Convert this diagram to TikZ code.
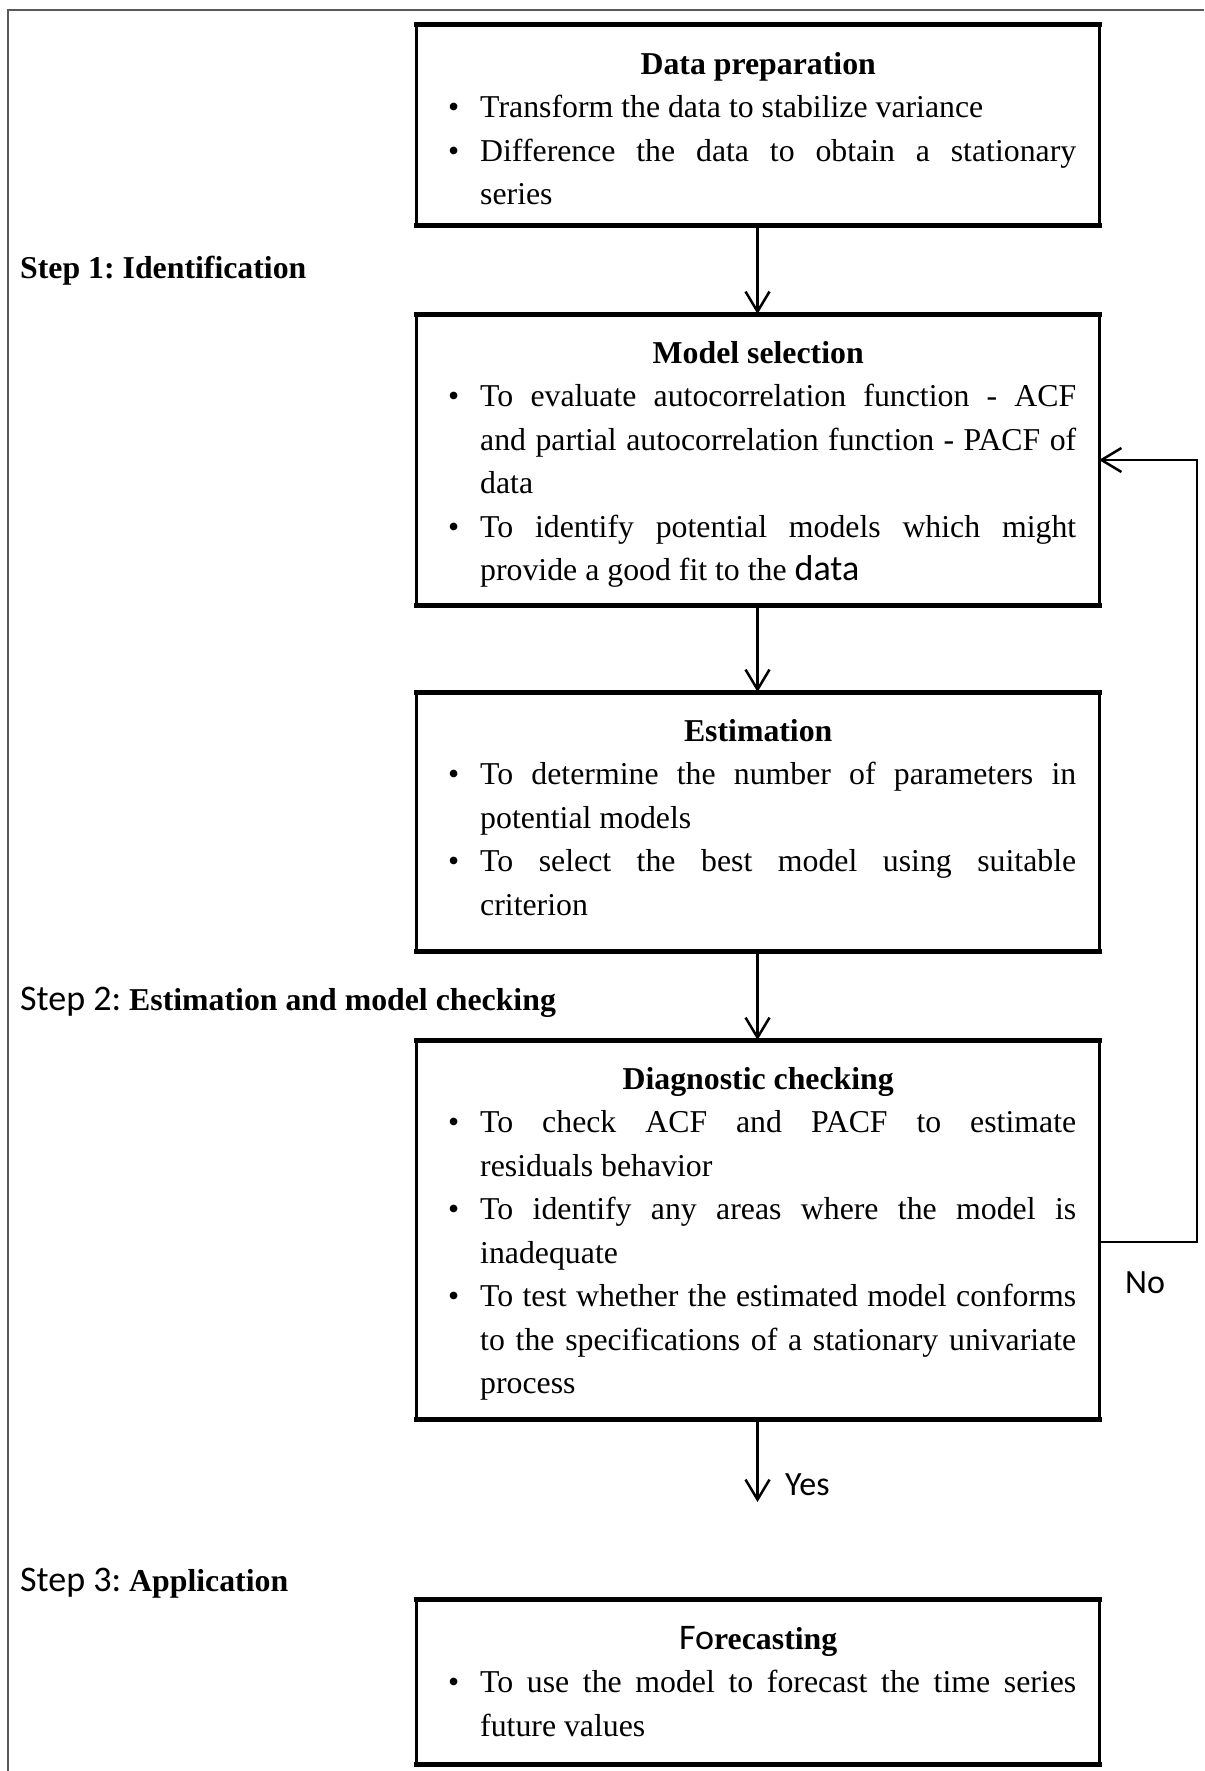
\documentclass[tikz,border=0pt]{standalone}
\usepackage{fontspec}
\setmainfont{Liberation Serif}
\newfontfamily\carl{Carlito}
\newcommand\cbig{\carl\fontsize{36}{43.5}\selectfont}
\usetikzlibrary{arrows.meta}
\newcommand\bitem[1]{\noindent\hangindent=32pt\hangafter=1\makebox[32pt][l]{\textbullet}#1\par}
\newcommand\btitle[1]{{\centering\bfseries\hspace*{-8pt}#1\par}}
\setlength\parindent{0pt}
\hyphenpenalty=10000
\frenchspacing
\begin{document}
\frenchspacing
\begin{tikzpicture}[x=1pt,y=-1pt,
  box/.style={draw=black,line width=3pt,minimum width=683pt,inner sep=0pt,outer sep=0pt},
  edge/.style={line width=5pt,line cap=rect},
  txt/.style={anchor=north west,inner sep=0pt,text width=628pt,align=justify,
    font=\fontsize{31.8}{43.5}\selectfont},
  lbl/.style={anchor=base west,inner sep=0pt,font=\fontsize{31.8}{38}\selectfont},
  arr/.style={line width=2.5pt,-{Straight Barb[length=20pt,width=24pt]}},
  conn/.style={line width=2.5pt}]
\useasboundingbox (0,0) rectangle (1204,1771);
\fill[white] (0,0) rectangle (1204,1771);
\draw[line width=1.5pt,black!65] (8,1771) -- (8,10) -- (1204,10);

% frames
\node[box,minimum height=201pt] (b1) at (757.5,125.5) {};
\node[box,minimum height=291pt] (b2) at (757.5,459.5) {};
\node[box,minimum height=259pt] (b3) at (757.5,821.5) {};
\node[box,minimum height=379pt] (b4) at (757.5,1229.5) {};
\node[box,minimum height=165pt] (b5) at (757.5,1681.5) {};
\foreach \b in {b1,b2,b3,b4,b5}{
  \draw[edge] (\b.north west) -- (\b.north east);
  \draw[edge] (\b.south west) -- (\b.south east);
}

% contents
\node[txt] (t1) at (448,52) {\btitle{Data preparation}
\bitem{Transform the data to stabilize variance}
\bitem{Difference the data to obtain a stationary\linebreak series}};
\node[txt] (t2) at (448,341) {\btitle{Model selection}
\bitem{To evaluate autocorrelation function - ACF\linebreak and partial autocorrelation function - PACF of\linebreak data}
\bitem{To identify potential models which might\linebreak provide a good fit to the {\cbig data}}};
\node[txt] (t3) at (448,719) {\btitle{Estimation}
\bitem{To determine the number of parameters in\linebreak potential models}
\bitem{To select the best model using suitable\linebreak criterion}};
\node[txt] (t4) at (448,1067) {\btitle{Diagnostic checking}
\bitem{To check ACF and PACF to estimate\linebreak residuals behavior}
\bitem{To identify any areas where the model is\linebreak inadequate}
\bitem{To test whether the estimated model conforms\linebreak to the specifications of a stationary univariate\linebreak process}};
\node[txt] (t5) at (448,1626) {\btitle{{\cbig\mdseries Fo}recasting}
\bitem{To use the model to forecast the time series\linebreak future values}};

% step labels
\node[lbl] (s1) at (20,278) {\bfseries Step 1: Identification};
\node[lbl] (s2) at (20,1010) {{\cbig Step 2:} \bfseries Estimation and model checking};
\node[lbl] (s3) at (20,1591) {{\cbig Step 3:} \bfseries Application};

% connectors
\draw[arr] (b1.south) -- (b2.north);
\draw[arr] (b2.south) -- (b3.north);
\draw[arr] (b3.south) -- (b4.north);
\coordinate (yesend) at (757.5,1502);
\draw[arr] (b4.south) -- (yesend);
\node[lbl,font=\carl\fontsize{34}{40}\selectfont] (yes) at (785,1495) {Yes};

\coordinate (c1) at (1197,1242);
\coordinate (c2) at (1197,460);
\draw[arr] (b4.east |- c1) -- (c1) -- (c2) -- (b2.east |- c2);
\node[lbl,font=\carl\fontsize{34}{40}\selectfont] (no) at (1125,1293) {No};
\end{tikzpicture}
\end{document}
